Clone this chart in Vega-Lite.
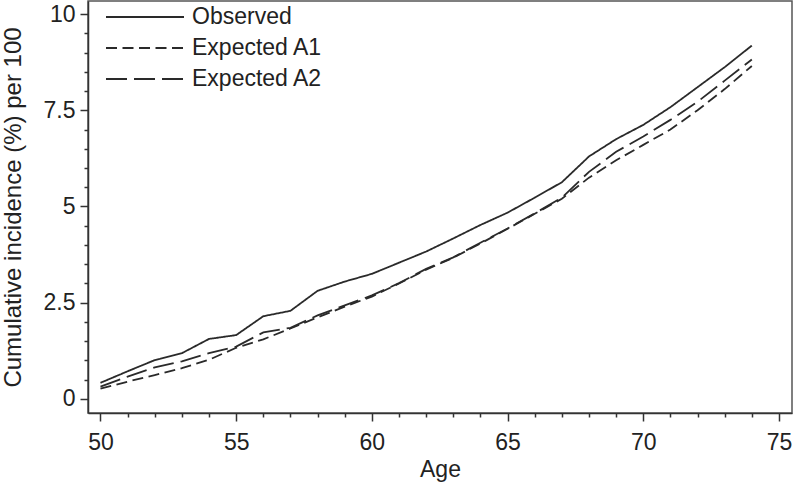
{
  "$schema": "https://vega.github.io/schema/vega-lite/v6.json",
  "width": 704,
  "height": 412,
  "autosize": "none",
  "padding": {"left": 88, "top": 1, "right": 2, "bottom": 69},
  "background": "white",
  "config": {
    "font": "Liberation Sans",
    "view": {"stroke": "#555", "strokeWidth": 1.5},
    "axis": {
      "domainColor": "#333",
      "domainWidth": 1.5,
      "tickColor": "#333",
      "tickWidth": 1.5,
      "labelColor": "#222",
      "titleColor": "#222",
      "labelFontSize": 23,
      "titleFontSize": 23,
      "titleFontWeight": "normal",
      "grid": false
    },
    "legend": {"labelFontSize": 23, "labelColor": "#222"}
  },
  "data": {
    "values": [
      {"age": 50, "series": "Observed", "value": 0.42},
      {"age": 51, "series": "Observed", "value": 0.72},
      {"age": 52, "series": "Observed", "value": 1.01},
      {"age": 53, "series": "Observed", "value": 1.19},
      {"age": 54, "series": "Observed", "value": 1.56},
      {"age": 55, "series": "Observed", "value": 1.66},
      {"age": 56, "series": "Observed", "value": 2.15},
      {"age": 57, "series": "Observed", "value": 2.29},
      {"age": 58, "series": "Observed", "value": 2.81},
      {"age": 59, "series": "Observed", "value": 3.05},
      {"age": 60, "series": "Observed", "value": 3.25},
      {"age": 61, "series": "Observed", "value": 3.54},
      {"age": 62, "series": "Observed", "value": 3.83},
      {"age": 63, "series": "Observed", "value": 4.17},
      {"age": 64, "series": "Observed", "value": 4.52},
      {"age": 65, "series": "Observed", "value": 4.84},
      {"age": 66, "series": "Observed", "value": 5.23},
      {"age": 67, "series": "Observed", "value": 5.63},
      {"age": 68, "series": "Observed", "value": 6.3},
      {"age": 69, "series": "Observed", "value": 6.75},
      {"age": 70, "series": "Observed", "value": 7.12},
      {"age": 71, "series": "Observed", "value": 7.58},
      {"age": 72, "series": "Observed", "value": 8.1},
      {"age": 73, "series": "Observed", "value": 8.62},
      {"age": 74, "series": "Observed", "value": 9.18},
      {"age": 50, "series": "Expected A1", "value": 0.27},
      {"age": 51, "series": "Expected A1", "value": 0.45},
      {"age": 52, "series": "Expected A1", "value": 0.62},
      {"age": 53, "series": "Expected A1", "value": 0.8},
      {"age": 54, "series": "Expected A1", "value": 1.02},
      {"age": 55, "series": "Expected A1", "value": 1.33},
      {"age": 56, "series": "Expected A1", "value": 1.55},
      {"age": 57, "series": "Expected A1", "value": 1.83},
      {"age": 58, "series": "Expected A1", "value": 2.12},
      {"age": 59, "series": "Expected A1", "value": 2.4},
      {"age": 60, "series": "Expected A1", "value": 2.66},
      {"age": 61, "series": "Expected A1", "value": 3.0},
      {"age": 62, "series": "Expected A1", "value": 3.36},
      {"age": 63, "series": "Expected A1", "value": 3.67},
      {"age": 64, "series": "Expected A1", "value": 4.04},
      {"age": 65, "series": "Expected A1", "value": 4.42},
      {"age": 66, "series": "Expected A1", "value": 4.81},
      {"age": 67, "series": "Expected A1", "value": 5.2},
      {"age": 68, "series": "Expected A1", "value": 5.75},
      {"age": 69, "series": "Expected A1", "value": 6.2},
      {"age": 70, "series": "Expected A1", "value": 6.6},
      {"age": 71, "series": "Expected A1", "value": 7.0},
      {"age": 72, "series": "Expected A1", "value": 7.5},
      {"age": 73, "series": "Expected A1", "value": 8.05},
      {"age": 74, "series": "Expected A1", "value": 8.65},
      {"age": 50, "series": "Expected A2", "value": 0.32},
      {"age": 51, "series": "Expected A2", "value": 0.58},
      {"age": 52, "series": "Expected A2", "value": 0.82},
      {"age": 53, "series": "Expected A2", "value": 0.98},
      {"age": 54, "series": "Expected A2", "value": 1.19},
      {"age": 55, "series": "Expected A2", "value": 1.36},
      {"age": 56, "series": "Expected A2", "value": 1.73},
      {"age": 57, "series": "Expected A2", "value": 1.85},
      {"age": 58, "series": "Expected A2", "value": 2.17},
      {"age": 59, "series": "Expected A2", "value": 2.43},
      {"age": 60, "series": "Expected A2", "value": 2.69},
      {"age": 61, "series": "Expected A2", "value": 3.01},
      {"age": 62, "series": "Expected A2", "value": 3.38},
      {"age": 63, "series": "Expected A2", "value": 3.68},
      {"age": 64, "series": "Expected A2", "value": 4.06},
      {"age": 65, "series": "Expected A2", "value": 4.43},
      {"age": 66, "series": "Expected A2", "value": 4.82},
      {"age": 67, "series": "Expected A2", "value": 5.23},
      {"age": 68, "series": "Expected A2", "value": 5.9},
      {"age": 69, "series": "Expected A2", "value": 6.42},
      {"age": 70, "series": "Expected A2", "value": 6.82},
      {"age": 71, "series": "Expected A2", "value": 7.25},
      {"age": 72, "series": "Expected A2", "value": 7.72},
      {"age": 73, "series": "Expected A2", "value": 8.27},
      {"age": 74, "series": "Expected A2", "value": 8.82}
    ]
  },
  "mark": {"type": "line", "color": "#2a2a2a", "strokeWidth": 1.8},
  "encoding": {
    "x": {
      "field": "age",
      "type": "quantitative",
      "title": "Age",
      "scale": {"domain": [49.54, 75.48], "nice": false, "zero": false},
      "axis": {
        "values": [50,51,52,53,54,55,56,57,58,59,60,61,62,63,64,65,66,67,68,69,70,71,72,73,74,75],
        "labelExpr": "datum.value % 5 === 0 ? '' + datum.value : ''",
        "tickSize": {"condition": {"test": "datum.value % 5 === 0", "value": 8}, "value": 4},
        "labelPadding": 10,
        "titlePadding": 4,
        "labelFlush": false,
        "labelOverlap": false
      }
    },
    "y": {
      "field": "value",
      "type": "quantitative",
      "title": "Cumulative incidence (%) per 100",
      "scale": {"domain": [-0.364, 10.338], "nice": false, "zero": false},
      "axis": {
        "values": [0,0.5,1,1.5,2,2.5,3,3.5,4,4.5,5,5.5,6,6.5,7,7.5,8,8.5,9,9.5,10],
        "labelExpr": "datum.value % 2.5 === 0 ? '' + datum.value : ''",
        "tickSize": {"condition": {"test": "datum.value % 2.5 === 0", "value": 8}, "value": 4},
        "labelPadding": 5,
        "titlePadding": 18,
        "titleFontSize": 24,
        "labelFlush": false,
        "labelOverlap": false
      }
    },
    "strokeDash": {
      "field": "series",
      "type": "nominal",
      "scale": {
        "domain": ["Observed", "Expected A1", "Expected A2"],
        "range": [[1, 0], [11, 5.5], [21, 7]]
      },
      "legend": {
        "title": null,
        "orient": "none",
        "legendX": 43,
        "legendY": 2,
        "symbolType": "M-3,0H3",
        "symbolSize": 676,
        "symbolStrokeWidth": 1.8,
        "symbolStrokeColor": "#2a2a2a",
        "labelOffset": 33,
        "rowPadding": 5,
        "padding": 0
      }
    }
  }
}
